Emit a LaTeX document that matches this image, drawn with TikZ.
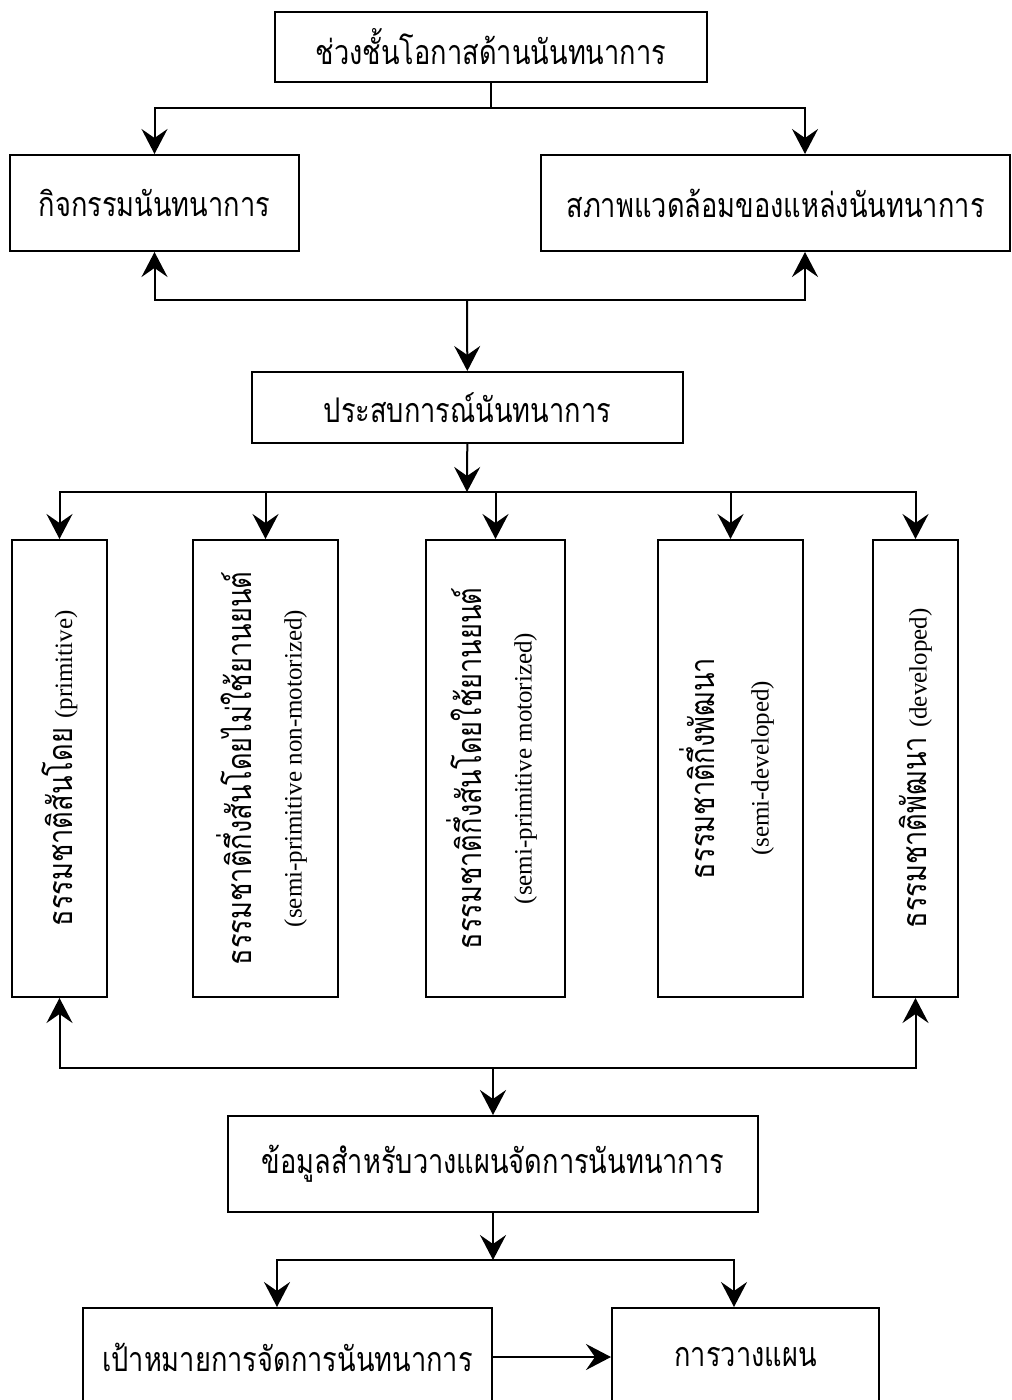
\documentclass[tikz,border=0pt]{standalone}
\usepackage{fontspec}
\usepackage{graphicx}
\setmainfont{Liberation Serif}
\newfontfamily\thaifont[Script=Thai,FakeStretch=0.8]{Loma}
\newcommand{\eng}[1]{{\rmfamily\fontsize{12.5}{15}\selectfont #1}}
\usetikzlibrary{arrows.meta, positioning}
\tikzset{
    >={Stealth[length=12.5pt, width=13pt, inset=4.5pt]}, % notched arrow heads
    box/.style={draw, line width=1pt, inner sep=0pt, align=center,
        font=\thaifont\fontsize{17}{21}\selectfont}, % every framed box
    tall/.style={box, minimum height=228.5pt}, % the five upright boxes
    link/.style={line width=1pt}, % connectors
}

\begin{document}
\begin{tikzpicture}[x=0.5pt, y=-0.5pt]
    \useasboundingbox (0,0) rectangle (1011,1400);
    \node[box, minimum width=216pt, minimum height=35pt] (top) at (491,47) {ช่วงชั้นโอกาสด้านนันทนาการ};
    \node[box, minimum width=144.5pt, minimum height=48pt] (act) at (154.5,203) {กิจกรรมนันทนาการ};
    \node[box, minimum width=234.5pt, minimum height=48pt] (env) at (775.5,203) {สภาพแวดล้อมของแหล่งนันทนาการ};
    \node[box, minimum width=215.5pt, minimum height=35.5pt] (exp) at (467.5,407.5) {ประสบการณ์นันทนาการ};

    \node[tall, minimum width=47.5pt] (p1) at (59.5,768.5)
        {\rotatebox{90}{ธรรมชาติสันโดย \eng{(primitive)}}};
    \node[tall, minimum width=72.5pt] (p2) at (265.5,768.5)
        {\rotatebox{90}{\begin{tabular}{@{}c@{}}ธรรมชาติกึ่งสันโดยไม่ใช้ยานยนต์\\[4pt] \eng{(semi-primitive non-motorized)}\end{tabular}}};
    \node[tall, minimum width=69.5pt] (p3) at (495.5,768.5)
        {\rotatebox{90}{\begin{tabular}{@{}c@{}}ธรรมชาติกึ่งสันโดยใช้ยานยนต์\\[4pt] \eng{(semi-primitive motorized)}\end{tabular}}};
    \node[tall, minimum width=72.5pt] (p4) at (730.5,768.5)
        {\rotatebox{90}{\begin{tabular}{@{}c@{}}ธรรมชาติกึ่งพัฒนา\\[6pt] \eng{(semi-developed)}\end{tabular}}};
    \node[tall, minimum width=42.5pt] (p5) at (915.5,768.5)
        {\rotatebox{90}{ธรรมชาติพัฒนา \eng{(developed)}}};

    \node[box, minimum width=265pt, minimum height=48pt] (info) at (493,1164) {ข้อมูลสำหรับวางแผนจัดการนันทนาการ};
    \node[box, minimum width=204.5pt, minimum height=49pt] (goal) at (287.5,1357) {เป้าหมายการจัดการนันทนาการ};
    \node[box, minimum width=133.5pt, minimum height=49pt] (plan) at (745.5,1357) {การวางแผน};

    % junctions on the branch lines
    \coordinate (j1) at (491,108);
    \coordinate (j2) at (467,300);
    \coordinate (j3) at (467,492);
    \coordinate (j4) at (493,1068);
    \coordinate (j5) at (493,1260);

    \draw[link] (top) -- (j1);
    \draw[link, ->] (j1) -| (act.north);
    \draw[link, ->] (j1) -| ([xshift=14.75pt]env.north);
    \draw[link, ->] (j2) -| (act.south);
    \draw[link, ->] (j2) -| ([xshift=14.75pt]env.south);
    \draw[link, ->] (j2) -- (exp);
    \draw[link, ->] (exp) -- (j3);
    \foreach \b in {p1,p2,p3,p4,p5}
        \draw[link, ->] (j3) -| (\b.north);
    \draw[link, ->] (j4) -| (p1.south);
    \draw[link, ->] (j4) -| (p5.south);
    \draw[link, ->] (j4) -- (info);
    \draw[link, ->] (info) -- (j5);
    \draw[link, ->] (j5) -| ([xshift=-5.25pt]goal.north);
    \draw[link, ->] (j5) -| ([xshift=-5.75pt]plan.north);
    \draw[link, ->] (goal) -- (plan);
\end{tikzpicture}
\end{document}
